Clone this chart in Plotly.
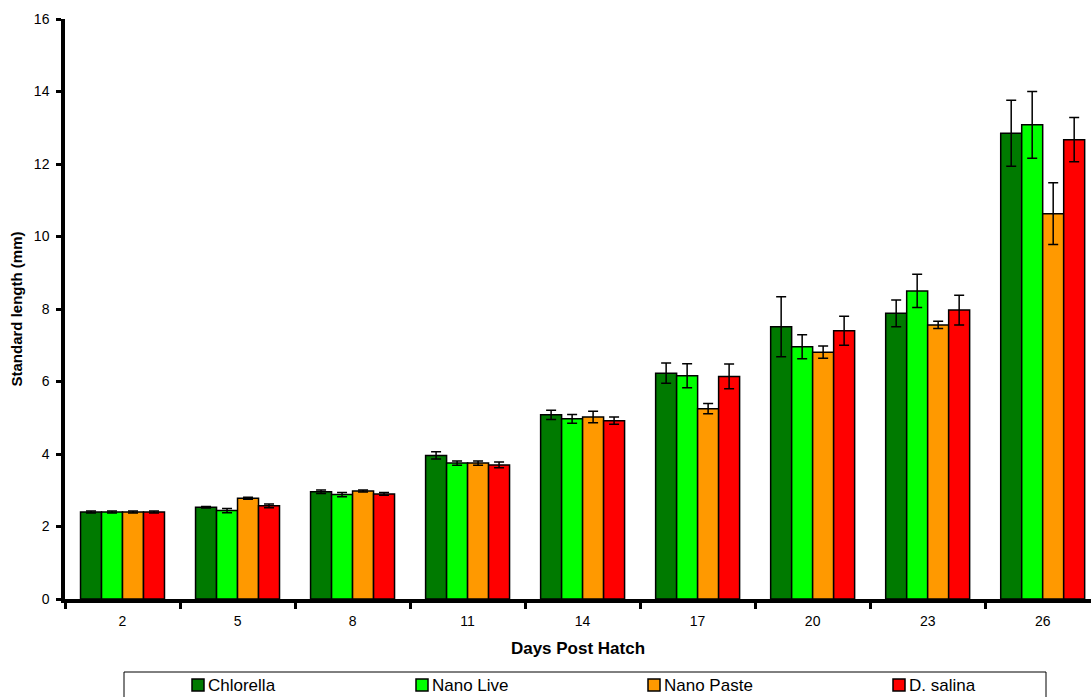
import plotly.graph_objects as go

days = ["2", "5", "8", "11", "14", "17", "20", "23", "26"]

chlorella = [2.40, 2.53, 2.96, 3.96, 5.08, 6.23, 7.51, 7.88, 12.85]
chlorella_err = [0.03, 0.02, 0.05, 0.10, 0.13, 0.28, 0.83, 0.37, 0.91]

nano_live = [2.40, 2.44, 2.88, 3.75, 4.97, 6.16, 6.96, 8.50, 13.08]
nano_live_err = [0.03, 0.06, 0.06, 0.06, 0.12, 0.33, 0.33, 0.46, 0.92]

nano_paste = [2.40, 2.78, 2.98, 3.75, 5.02, 5.25, 6.81, 7.56, 10.63]
nano_paste_err = [0.03, 0.03, 0.03, 0.06, 0.16, 0.14, 0.17, 0.10, 0.85]

d_salina = [2.40, 2.57, 2.90, 3.70, 4.92, 6.14, 7.40, 7.97, 12.67]
d_salina_err = [0.03, 0.05, 0.04, 0.08, 0.10, 0.34, 0.40, 0.41, 0.61]

names = ["Chlorella", "Nano Live", "Nano Paste", "D. salina"]
values = [chlorella, nano_live, nano_paste, d_salina]
errors = [chlorella_err, nano_live_err, nano_paste_err, d_salina_err]
colors = ["#007A00", "#00FF00", "#FF9900", "#FF0000"]

FONT = "Liberation Sans, Arial, sans-serif"

W, H = 1091, 697
ML, MR, MT, MB = 65, 0, 19, 98
PW, PH = W - ML - MR, H - MT - MB


def px_x(px):
    return (px - ML) / PW


def px_y(py):
    return (H - MB - py) / PH


fig = go.Figure()
for name, vals, errs, color in zip(names, values, errors, colors):
    fig.add_trace(go.Bar(
        x=days, y=vals, name=name,
        marker=dict(color=color, line=dict(color="black", width=1.5)),
        error_y=dict(type="data", array=errs, visible=True,
                     color="black", thickness=1.5, width=5),
    ))

# legend drawn as a framed row of swatches and labels below the axis title
shapes = [dict(type="rect", xref="paper", yref="paper",
               x0=px_x(124), x1=px_x(1046), y0=px_y(672), y1=px_y(705),
               line=dict(color="black", width=1), fillcolor="rgba(0,0,0,0)")]
annotations = []
swatch_left = [192, 416, 648, 893]
for name, color, sx in zip(names, colors, swatch_left):
    shapes.append(dict(type="rect", xref="paper", yref="paper",
                       x0=px_x(sx), x1=px_x(sx + 12),
                       y0=px_y(679), y1=px_y(691),
                       line=dict(color="black", width=1.5), fillcolor=color))
    annotations.append(dict(xref="paper", yref="paper",
                            x=px_x(sx + 14), y=px_y(685),
                            xanchor="left", yanchor="middle",
                            text=name, showarrow=False,
                            font=dict(family=FONT, size=17, color="black")))

fig.update_layout(
    width=W, height=H,
    margin=dict(l=ML, r=MR, t=MT, b=MB, autoexpand=False),
    paper_bgcolor="white", plot_bgcolor="white",
    barmode="group", bargap=0.27, bargroupgap=0,
    font=dict(family=FONT, size=14, color="black"),
    showlegend=False,
    xaxis=dict(
        type="category", range=[-0.5, 8.42],
        showline=True, linecolor="black", linewidth=3.5,
        ticks="outside", tickson="boundaries", ticklen=6, tickwidth=3,
        tickcolor="black", showgrid=False, zeroline=False,
        ticklabelstandoff=6,
        tickfont=dict(family=FONT, size=14),
        title=dict(text="<b>Days Post Hatch</b>", standoff=16,
                   font=dict(family=FONT, size=17)),
    ),
    yaxis=dict(
        range=[0, 16], dtick=2,
        showline=True, linecolor="black", linewidth=3.5,
        ticks="outside", ticklen=5, tickwidth=2.5, tickcolor="black",
        showgrid=False, zeroline=False,
        ticklabelstandoff=4,
        tickfont=dict(family=FONT, size=14),
        title=dict(text="<b>Standard length (mm)</b>", standoff=9,
                   font=dict(family=FONT, size=15)),
    ),
    shapes=shapes,
    annotations=annotations,
)

fig.write_html("out.html")
